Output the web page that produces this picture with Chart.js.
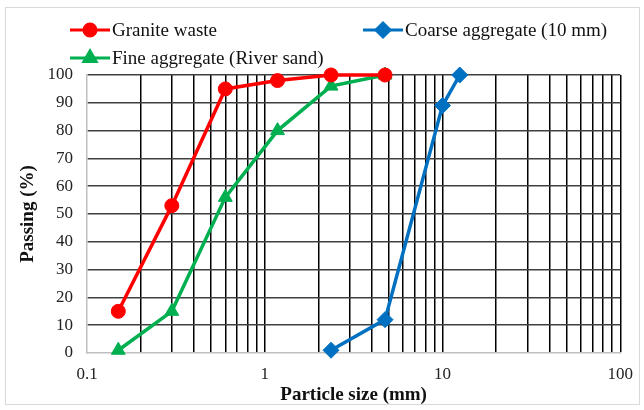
<!DOCTYPE html>
<html lang="en">
<head>
<meta charset="UTF-8">
<title>Particle size distribution</title>
<script src="https://cdn.jsdelivr.net/npm/chart.js@4.4.0/dist/chart.umd.min.js"></script>
<style>
    html, body { margin: 0; padding: 0; background: #fff; }
    #board { width: 644px; height: 410px; }
</style>
</head>
<body>
<div id="board">
    <canvas id="chart1" width="644" height="410"></canvas>
</div>
<script>
    // sieve sizes (mm) and % passing
    const sizeGranite = [0.15, 0.3, 0.6, 1.18, 2.36, 4.75];
    const passGranite = [15, 53, 95, 98, 100, 100];
    const sizeCoarse = [2.36, 4.75, 10, 12.5];
    const passCoarse = [1, 12, 89, 100];
    const sizeFine = [0.15, 0.3, 0.6, 1.18, 2.36, 4.75];
    const passFine = [1, 15, 56, 80, 96, 100];

    // log grid lines and which of them get a label
    const xTicks = [0.1, 0.2, 0.3, 0.4, 0.5, 0.6, 0.7, 0.8, 0.9,
                    1, 2, 3, 4, 5, 6, 7, 8, 9,
                    10, 20, 30, 40, 50, 60, 70, 80, 90, 100];
    const xLabels = [0.1, 1, 10, 100];

    const toPoints = (xs, ys) => xs.map((x, i) => ({x: x, y: ys[i]}));

    const serif = "'Liberation Serif', 'Times New Roman', serif";

    // legend laid out like the original (two columns, two rows)
    const legendSpots = [
        {x: 70, y: 30},   // Granite waste
        {x: 363, y: 30},  // Coarse aggregate
        {x: 70, y: 58}    // Fine aggregate
    ];

    const frameAndLegend = {
        id: 'frameAndLegend',
        beforeDraw(chart) {
            const ctx = chart.ctx;
            ctx.save();
            ctx.strokeStyle = '#d9d9d9';
            ctx.lineWidth = 1;
            ctx.strokeRect(5.5, 7.5, 634, 397);
            ctx.restore();
        },
        afterDraw(chart) {
            const ctx = chart.ctx;
            ctx.save();
            chart.data.datasets.forEach((ds, i) => {
                const p = legendSpots[i];
                ctx.strokeStyle = ds.borderColor;
                ctx.lineWidth = 3;
                ctx.beginPath();
                ctx.moveTo(p.x, p.y);
                ctx.lineTo(p.x + 40, p.y);
                ctx.stroke();
                ctx.fillStyle = ds.backgroundColor;
                ctx.strokeStyle = ds.borderColor;
                Chart.helpers.drawPoint(ctx, {
                    pointStyle: ds.pointStyle,
                    radius: ds.pointRadius - 1,
                    rotation: 0,
                    borderWidth: 1
                }, p.x + 20, p.y);
                ctx.fillStyle = '#111';
                ctx.font = '19px ' + serif;
                ctx.textBaseline = 'middle';
                ctx.textAlign = 'left';
                ctx.fillText(ds.label, p.x + 42, p.y + 1);
            });
            ctx.restore();
        }
    };

    const ctx = document.getElementById('chart1').getContext('2d');

    new Chart(ctx, {
        type: 'scatter',
        data: {
            datasets: [{
                label: 'Granite waste',
                data: toPoints(sizeGranite, passGranite),
                borderColor: '#ff0000',
                backgroundColor: '#ff0000',
                pointStyle: 'circle',
                pointRadius: 7
            }, {
                label: 'Coarse aggregate (10 mm)',
                data: toPoints(sizeCoarse, passCoarse),
                borderColor: '#0070c0',
                backgroundColor: '#0070c0',
                pointStyle: 'rectRot',
                pointRadius: 8
            }, {
                label: 'Fine aggregate (River sand)',
                data: toPoints(sizeFine, passFine),
                borderColor: '#00b050',
                backgroundColor: '#00b050',
                pointStyle: 'triangle',
                pointRadius: 8
            }]
        },
        options: {
            responsive: false,
            animation: false,
            clip: false,
            datasets: {
                scatter: {
                    showLine: true,
                    borderWidth: 3.5,
                    pointBorderWidth: 1
                }
            },
            layout: {
                padding: {left: 0, right: 21, top: 75, bottom: 0}
            },
            plugins: {
                legend: {display: false},
                tooltip: {enabled: false}
            },
            scales: {
                x: {
                    type: 'logarithmic',
                    min: 0.1,
                    max: 100,
                    afterBuildTicks: s => { s.ticks = xTicks.map(v => ({value: v})); },
                    afterFit: s => { s.height = 57; },
                    ticks: {
                        autoSkip: false,
                        maxRotation: 0,
                        padding: 11,
                        color: '#222',
                        font: {family: serif, size: 17},
                        callback: v => xLabels.includes(v) ? String(v) : ''
                    },
                    grid: {
                        drawTicks: false,
                        color: c => (c.tick && c.tick.value === 0.1) ? 'rgba(0,0,0,0)' : '#000',
                        lineWidth: 1.5
                    },
                    border: {color: '#bfbfbf', width: 1.5},
                    title: {
                        display: true,
                        text: 'Particle size (mm)',
                        color: '#111',
                        font: {family: serif, size: 19, weight: 'bold'},
                        padding: {top: 0, bottom: 4}
                    }
                },
                y: {
                    min: 0,
                    max: 100,
                    afterFit: s => { s.width = 87; },
                    ticks: {
                        stepSize: 10,
                        padding: 14,
                        color: '#222',
                        font: {family: serif, size: 17}
                    },
                    grid: {
                        drawTicks: false,
                        color: c => (c.tick && c.tick.value === 0) ? 'rgba(0,0,0,0)' : '#404040',
                        lineWidth: 1.5
                    },
                    border: {color: '#bfbfbf', width: 1.5},
                    title: {
                        display: true,
                        text: 'Passing (%)',
                        color: '#111',
                        font: {family: serif, size: 19, weight: 'bold'},
                        padding: {top: 17, bottom: 0}
                    }
                }
            }
        },
        plugins: [frameAndLegend]
    });
</script>
</body>
</html>
